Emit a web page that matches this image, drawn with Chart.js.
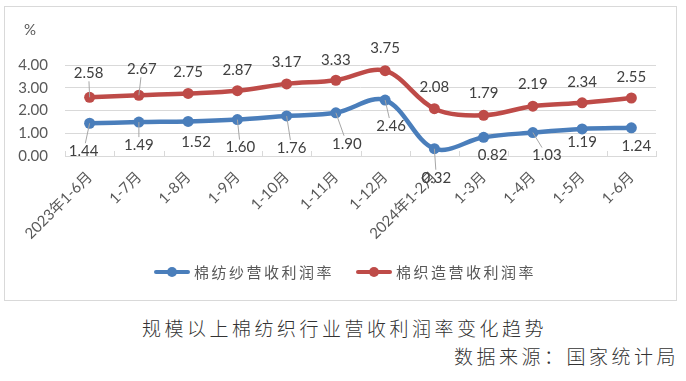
<!DOCTYPE html>
<html><head><meta charset="utf-8">
<script src="https://cdn.jsdelivr.net/npm/chart.js@4"></script>
<style>
html,body{margin:0;padding:0;background:#fff}
body{width:686px;height:381px;position:relative;overflow:hidden;font-family:Lato,"Noto Sans CJK SC",sans-serif}
#box{position:absolute;left:4px;top:6px;width:673px;height:295px;border:1px solid #d9d9d9;box-sizing:border-box}
#wrap{position:absolute;left:4px;top:6px;width:672px;height:294px}
#unit{position:absolute;left:24px;top:20px;font-size:15px;color:#595959}
#legend{position:absolute;top:262px;left:0;width:686px;height:20px;font-size:15px;color:#595959;font-family:"Noto Sans CJK SC",sans-serif;letter-spacing:2.5px}
.item{position:absolute;top:0;height:20px;line-height:20px;white-space:nowrap}
.mk{position:absolute;left:0;top:6px;width:36px;height:8px}
.mk .ln{position:absolute;left:0;top:2px;width:36px;height:4px;border-radius:2px}
.mk .dt{position:absolute;left:13px;top:-1px;width:10px;height:10px;border-radius:50%}
.item .tx{position:absolute;left:40px;top:0}
#title{position:absolute;left:0;width:686px;top:314px;text-align:center;font-size:19px;letter-spacing:3.5px;color:#333;font-family:"Noto Sans CJK SC",sans-serif;font-weight:300;padding-left:3px;box-sizing:border-box}
#src{position:absolute;right:7px;top:342px;font-size:19px;letter-spacing:3.5px;color:#333;font-family:"Noto Sans CJK SC",sans-serif;font-weight:300}
</style>
</head><body>
<div id="box"></div>
<div id="wrap"><canvas id="c"></canvas></div>
<div id="unit">%</div>
<div id="legend"></div>
<div id="title">规模以上棉纺织行业营收利润率变化趋势</div>
<div id="src">数据来源：国家统计局</div>
<script>
const categories = ["2023年1-6月","1-7月","1-8月","1-9月","1-10月","1-11月","1-12月","2024年1-2月","1-3月","1-4月","1-5月","1-6月"];
const seriesNames = ["棉纺纱营收利润率","棉织造营收利润率"];
const yarnMargin = [1.44,1.49,1.52,1.60,1.76,1.90,2.46,0.32,0.82,1.03,1.19,1.24];
const weavingMargin = [2.58,2.67,2.75,2.87,3.17,3.33,3.75,2.08,1.79,2.19,2.34,2.55];
const yTicks = [0,1,2,3,4];

const colors = ["#4A7EBB","#BE4B48"];

// label placement style (offset of label centre from its point, and whether a leader line is drawn)
const labelStyle = [
  [[-6,28,1],[0,23,1],[8,21,0],[3,28,1],[5,32,1],[11,31,1],[6,26,1],[2,29,1],[9,18,0],[14,23,1],[0,13,0],[5,18,0]],
  [[-1,-24,1],[3,-26,1],[0,-21,0],[0,-21,0],[0,-22,0],[0,-20,0],[0,-23,0],[0,-22,0],[0,-22,0],[0,-22,0],[0,-21,0],[0,-21,0]]
];

// legend
const lg = document.getElementById('legend');
const legendX = [154, 356];
seriesNames.forEach((n,i)=>{
  const it=document.createElement('div'); it.className='item'; it.style.left=legendX[i]+'px';
  it.innerHTML='<div class="mk"><div class="ln" style="background:'+colors[i]+'"></div><div class="dt" style="background:'+colors[i]+'"></div></div><span class="tx">'+n+'</span>';
  lg.appendChild(it);
});

const FONT = 'Lato, "Noto Sans CJK SC", sans-serif';

const dataLabels = {
  id:'dataLabels',
  afterDatasetsDraw(chart){
    const ctx=chart.ctx;
    ctx.save();
    ctx.font='15px '+FONT;
    ctx.textAlign='center'; ctx.textBaseline='middle';
    chart.data.datasets.forEach((ds,di)=>{
      const meta=chart.getDatasetMeta(di);
      meta.data.forEach((pt,i)=>{
        const [dx,dy,lead]=labelStyle[di][i];
        const cx=pt.x+dx, cy=pt.y+dy;
        const txt=ds.data[i].toFixed(2);
        if(lead){
          const hw=ctx.measureText(txt).width/2+1, hh=8;
          const vx=pt.x-cx, vy=pt.y-cy;
          const t=Math.min(vx?hw/Math.abs(vx):Infinity, vy?hh/Math.abs(vy):Infinity);
          if(t<1){
            ctx.strokeStyle='#a6a6a6'; ctx.lineWidth=1;
            ctx.beginPath(); ctx.moveTo(cx+vx*t,cy+vy*t); ctx.lineTo(pt.x,pt.y); ctx.stroke();
          }
        }
      });
    });
    chart.data.datasets.forEach((ds,di)=>{
      const meta=chart.getDatasetMeta(di);
      meta.data.forEach((pt,i)=>{
        const [dx,dy]=labelStyle[di][i];
        ctx.fillStyle='#404040';
        ctx.fillText(ds.data[i].toFixed(2),pt.x+dx,pt.y+dy);
      });
    });
    ctx.restore();
  }
};

const catTicks = {
  id:'catTicks',
  beforeDatasetsDraw(chart){
    const x=chart.scales.x, ctx=chart.ctx, b=chart.chartArea.bottom;
    const step=x.getPixelForValue(1)-x.getPixelForValue(0);
    ctx.save(); ctx.strokeStyle='#d9d9d9'; ctx.lineWidth=1;
    for(let i=0;i<=categories.length;i++){
      const px=Math.round(x.getPixelForValue(i)-step/2)+0.5;
      ctx.beginPath(); ctx.moveTo(px,b-5); ctx.lineTo(px,b); ctx.stroke();
    }
    ctx.restore();
  }
};

new Chart(document.getElementById('c'),{
  type:'line',
  data:{
    labels:categories,
    datasets:[
      {label:seriesNames[0],data:yarnMargin,borderColor:colors[0],backgroundColor:colors[0],borderWidth:4.5,pointRadius:5.5,pointHoverRadius:5.5,pointBorderWidth:0,tension:0.35,borderCapStyle:'round'},
      {label:seriesNames[1],data:weavingMargin,borderColor:colors[1],backgroundColor:colors[1],borderWidth:4.5,pointRadius:5.5,pointHoverRadius:5.5,pointBorderWidth:0,tension:0.35,borderCapStyle:'round'}
    ]
  },
  options:{
    responsive:true,maintainAspectRatio:false,animation:false,
    layout:{padding:{top:59,right:20,left:0,bottom:45}},
    plugins:{legend:{display:false},tooltip:{enabled:false}},
    scales:{
      x:{
        offset:true,
        grid:{display:false},
        border:{display:true,color:'#d9d9d9'},
        ticks:{font:{family:FONT,size:15},color:'#595959',maxRotation:45,minRotation:45,autoSkip:false,padding:4},
        afterFit(s){s.height=99;}
      },
      y:{
        min:0,max:4,
        afterBuildTicks(s){s.ticks=yTicks.map(v=>({value:v}));},
        grid:{color:'#d9d9d9',drawTicks:false},
        border:{display:false},
        ticks:{font:{family:FONT,size:15},color:'#595959',padding:17,callback:v=>Number(v).toFixed(2)},
        afterFit(s){s.width=61;}
      }
    }
  },
  plugins:[dataLabels,catTicks]
});
</script>
</body></html>
